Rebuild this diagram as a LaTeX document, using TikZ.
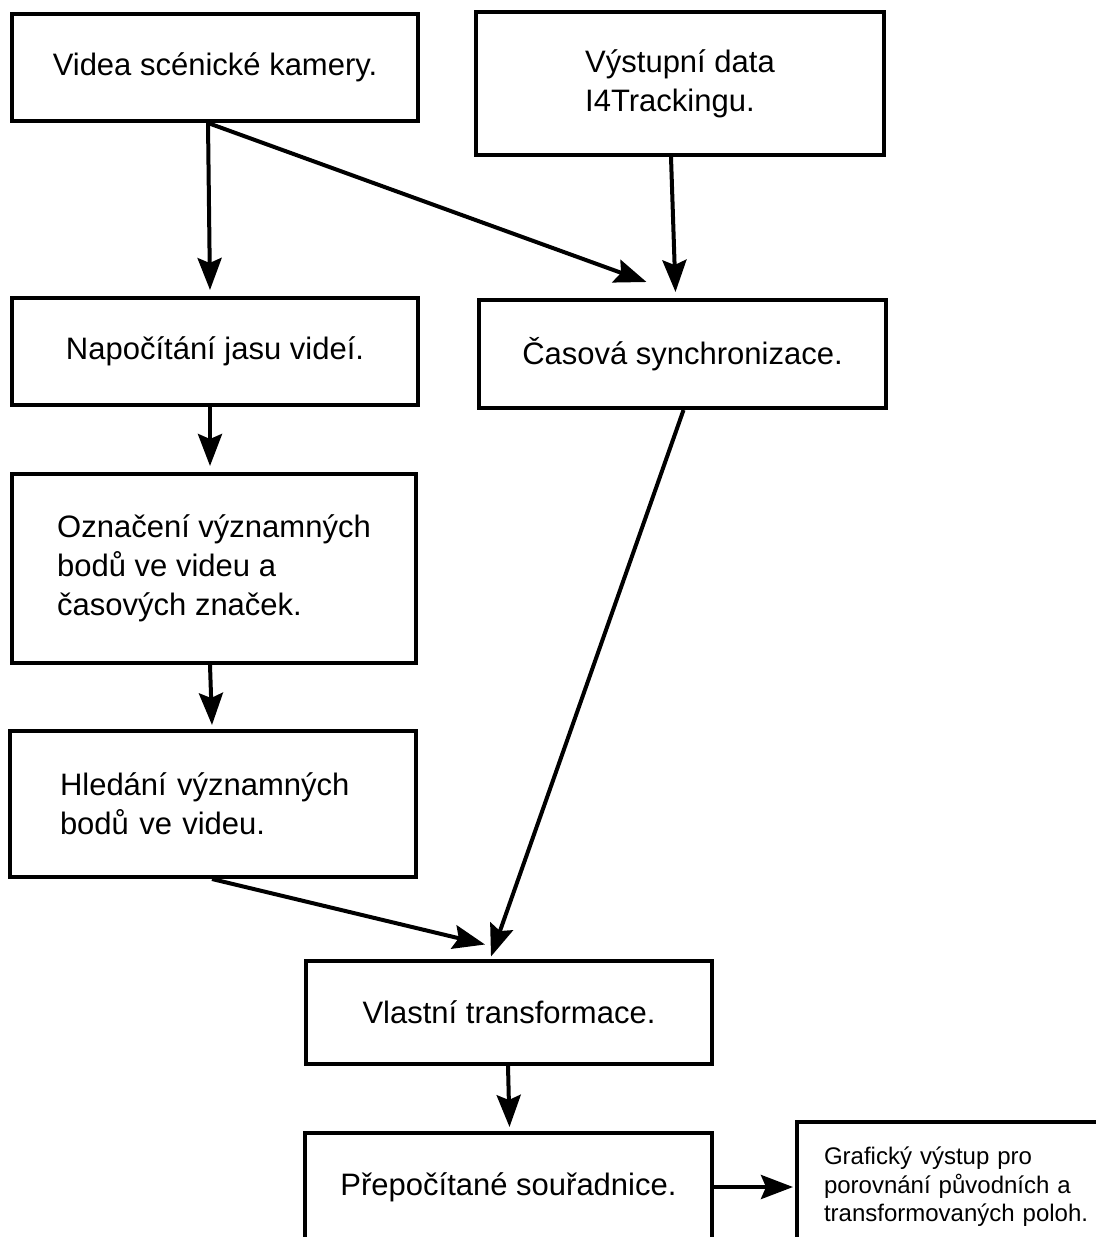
\documentclass[tikz,border=0pt]{standalone}
\usepackage{fontspec}
\setmainfont{Liberation Sans}
\usetikzlibrary{arrows.meta, positioning}

\tikzset{
  stepbox/.style={draw, line width=2pt, align=left, inner sep=0pt,
    font=\fontsize{15.5}{19.5}\selectfont},
  smallbox/.style={draw, line width=2pt, align=left, inner ysep=0pt, inner xsep=13.5pt,
    font=\fontsize{12}{14.3}\selectfont},
  arr/.style={-{Stealth[length=16pt,width=12pt,inset=2.5pt]}, line width=2pt},
}

\begin{document}
\begin{tikzpicture}[x=0.5pt,y=-0.5pt]
\clip (0,0) rectangle (1096,1237);

\node[stepbox, minimum width=203pt, minimum height=53.5pt] (videa) at (215,67.5) {Videa scénické kamery.};
\node[stepbox, minimum width=204pt, minimum height=71.5pt] (vystup) at (680,83.5) {Výstupní data\\I4Trackingu.};
\node[stepbox, minimum width=203pt, minimum height=53.5pt] (napoc) at (215,351.5) {Napočítání jasu videí.};
\node[stepbox, minimum width=203.5pt, minimum height=54pt] (synchro) at (682.5,354) {Časová synchronizace.};
\node[stepbox, minimum width=202pt, minimum height=94.5pt] (oznac) at (214,568.5) {Označení významných\\bodů ve videu a\\časových značek.};
\node[stepbox, inner xsep=25pt, text width=153pt, minimum height=73pt] (hled) at (213,804) {Hledání významných\\bodů ve videu.};
\node[stepbox, minimum width=203pt, minimum height=51.5pt] (transf) at (509,1012) {Vlastní transformace.};
\node[stepbox, minimum width=203.5pt, minimum height=54pt] (prepoc) at (508.5,1187) {Přepočítané souřadnice.};
\node[smallbox, text width=140pt, minimum height=65pt] (graf) at (964,1187) {Grafický výstup pro\\porovnání původních a\\transformovaných poloh.};

% connectors
\draw[arr] ([xshift=-3.5pt]videa.south) -- ([xshift=-2.5pt,yshift=3pt]napoc.north);
\draw[arr] ([xshift=-3.5pt]videa.south) -- ([xshift=-18pt,yshift=8pt]synchro.north);
\draw[arr] ([xshift=-4.5pt]vystup.south) -- ([xshift=-3.5pt,yshift=3pt]synchro.north);
\draw[arr] ([xshift=-2.5pt]napoc.south) -- ([xshift=-2pt,yshift=3pt]oznac.north);
\draw[arr] ([xshift=-2pt]oznac.south) -- ([xshift=-0.5pt,yshift=2pt]hled.north);
\draw[arr] ([xshift=-0.5pt]hled.south) -- ([xshift=-12pt,yshift=7pt]transf.north);
\draw[arr] ([xshift=0.5pt]synchro.south) -- ([xshift=-9pt,yshift=1pt]transf.north);
\draw[arr] ([xshift=-0.5pt]transf.south) -- ([xshift=0.5pt,yshift=2pt]prepoc.north);
\draw[arr] (prepoc.east) -- ([xshift=-1pt]prepoc.east -| graf.west);
\end{tikzpicture}
\end{document}
